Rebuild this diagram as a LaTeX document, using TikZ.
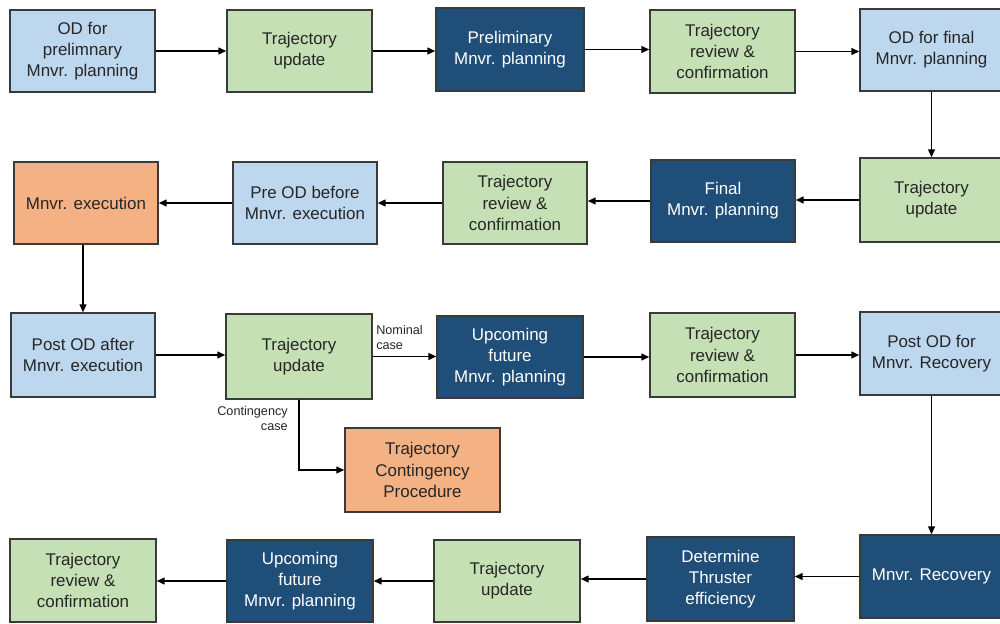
\documentclass[tikz,border=0pt]{standalone}
\usepackage{fontspec}
\setmainfont{Liberation Sans}
\usetikzlibrary{arrows.meta}
\definecolor{lblue}{HTML}{BDD7EE}
\definecolor{lgreen}{HTML}{C5E0B4}
\definecolor{dblue}{HTML}{1F4E79}
\definecolor{orng}{HTML}{F4B183}
\definecolor{edgec}{HTML}{3A3A3A}
\definecolor{txt}{HTML}{262626}
\newcommand\mybox[7]{\node[#1, minimum width={(#5-#3)*0.75pt}, minimum height={(#6-#4)*0.75pt}] (#2) at ({(#3+#5)/2},{(#4+#6)/2}) {#7};}
\begin{document}
\begin{tikzpicture}[x=0.75pt,y=-0.75pt,
 box/.style={draw=edgec, line width=0.9pt, align=center, inner sep=0pt, font=\fontsize{12.7}{15.8}\selectfont, text=txt},
 od/.style={box, fill=lblue},
 tr/.style={box, fill=lgreen},
 mp/.style={box, fill=dblue, text=white},
 ex/.style={box, fill=orng},
 arr/.style={-{Triangle[length=6pt,width=5pt]}, line width=1.4pt, draw=black},
 lbl/.style={font=\fontsize{9.5}{11.5}\selectfont, text=txt, inner sep=0pt}]
\useasboundingbox (0,0) rectangle (1000,624);
\mybox{od}{A1}{10}{10}{155}{92}{OD for\\prelimnary\\Mnvr. planning}
\mybox{tr}{A2}{227}{10}{372}{92}{Trajectory\\update}
\mybox{mp}{A3}{436}{8}{584}{91}{Preliminary\\Mnvr. planning}
\mybox{tr}{A4}{650}{10}{795}{93}{Trajectory\\review \&\\confirmation}
\mybox{od}{A5}{860}{9}{1003}{91}{OD for final\\Mnvr. planning}
\mybox{ex}{B1}{14}{162}{158}{244}{Mnvr. execution}
\mybox{od}{B2}{233}{162}{377}{244}{Pre OD before\\Mnvr. execution}
\mybox{tr}{B3}{443}{162}{587}{244}{Trajectory\\review \&\\confirmation}
\mybox{mp}{B4}{651}{160}{795}{242}{Final\\Mnvr. planning}
\mybox{tr}{B5}{860}{158}{1003}{242}{Trajectory\\update}
\mybox{od}{C1}{11}{313}{155}{397}{Post OD after\\Mnvr. execution}
\mybox{tr}{C2}{226}{314}{372}{399}{Trajectory\\update}
\mybox{mp}{C3}{437}{316}{583}{398}{Upcoming\\future\\Mnvr. planning}
\mybox{tr}{C4}{650}{313}{795}{397}{Trajectory\\review \&\\confirmation}
\mybox{od}{C5}{860}{312}{1003}{395}{Post OD for\\Mnvr. Recovery}
\mybox{ex}{C6}{345}{428}{500}{512}{Trajectory\\Contingency\\Procedure}
\mybox{tr}{D1}{10}{539}{156}{622}{Trajectory\\review \&\\confirmation}
\mybox{mp}{D2}{227}{540}{373}{622}{Upcoming\\future\\Mnvr. planning}
\mybox{tr}{D3}{434}{540}{580}{622}{Trajectory\\update}
\mybox{mp}{D4}{647}{537}{794}{621}{Determine\\Thruster\\efficiency}
\mybox{mp}{D5}{860}{535}{1003}{618}{Mnvr. Recovery}
% row 1
\draw[arr] (A1.east) -- (A1.east -| A2.west);
\draw[arr] (A2.east) -- (A2.east -| A3.west);
\draw[arr] (A3.east) -- (A3.east -| A4.west);
\draw[arr] (A4.east) -- (A4.east -| A5.west);
\draw[arr] (A5.south) -- (B5.north);
% row 2
\draw[arr] (B5.west) -- (B5.west -| B4.east);
\draw[arr] (B4.west) -- (B4.west -| B3.east);
\draw[arr] (B3.west) -- (B3.west -| B2.east);
\draw[arr] (B2.west) -- (B2.west -| B1.east);
\draw[arr] (B1.south -| C1.north) -- (C1.north);
% row 3
\draw[arr] (C1.east) -- (C1.east -| C2.west);
\draw[arr] (C2.east) -- (C2.east -| C3.west);
\draw[arr] (C3.east) -- (C3.east -| C4.west);
\draw[arr] (C4.east) -- (C4.east -| C5.west);
\draw[arr] (C2.south) |- (C6.west);
\draw[arr] (C5.south) -- (D5.north);
\node[lbl, anchor=south west, align=left] (nom) at (376,350) {Nominal\\case};
\node[lbl, anchor=north east, align=right] (cont) at (288,406) {Contingency\\case};
% row 4
\draw[arr] (D5.west) -- (D5.west -| D4.east);
\draw[arr] (D4.west) -- (D4.west -| D3.east);
\draw[arr] (D3.west) -- (D3.west -| D2.east);
\draw[arr] (D2.west) -- (D2.west -| D1.east);
\end{tikzpicture}
\end{document}
